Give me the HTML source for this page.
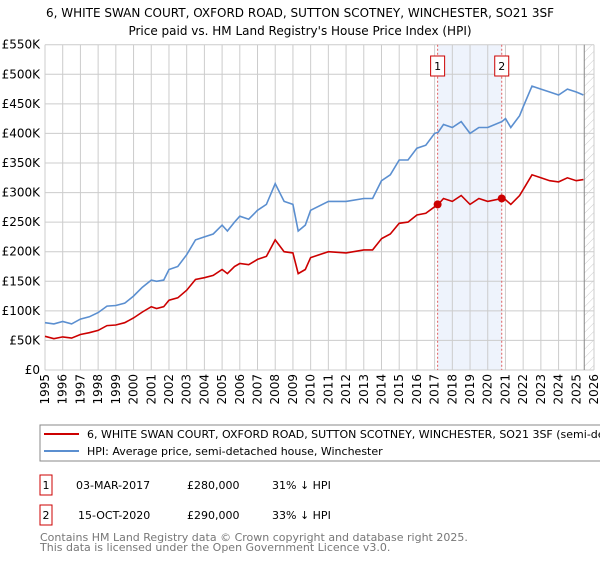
<!DOCTYPE html>
<html><head><meta charset="utf-8"><style>
body{margin:0;width:600px;height:560px;background:#fff;font-family:"DejaVu Sans","Liberation Sans",sans-serif;overflow:hidden}
svg text{font-family:"DejaVu Sans","Liberation Sans",sans-serif}
</style></head><body>
<svg width="600" height="560" id="svg">
<text x="300" y="17" text-anchor="middle" font-size="12">6, WHITE SWAN COURT, OXFORD ROAD, SUTTON SCOTNEY, WINCHESTER, SO21 3SF</text>
<text x="300" y="35" text-anchor="middle" font-size="12">Price paid vs. HM Land Registry's House Price Index (HPI)</text>
<defs><pattern id="hatch" width="6" height="6" patternUnits="userSpaceOnUse" patternTransform="rotate(45)"><line x1="0" y1="0" x2="0" y2="6" stroke="#ccc" stroke-width="1"/></pattern></defs>
<g id="grid"></g>
<g id="marks"></g>
<g id="lines"></g>
<rect x="40" y="425" width="570" height="36" fill="none" stroke="#888"/>
<line x1="44" y1="434" x2="79" y2="434" stroke="#cc0000" stroke-width="2"/>
<text x="87" y="438" font-size="11">6, WHITE SWAN COURT, OXFORD ROAD, SUTTON SCOTNEY, WINCHESTER, SO21 3SF (semi-detached house)</text>
<line x1="44" y1="451" x2="79" y2="451" stroke="#5b8fd0" stroke-width="2"/>
<text x="87" y="455" font-size="11">HPI: Average price, semi-detached house, Winchester</text>
<rect x="40" y="475" width="12" height="20" fill="none" stroke="#cc0000"/>
<text x="46" y="489" font-size="11" text-anchor="middle">1</text>
<text x="76" y="489" font-size="11">03-MAR-2017</text>
<text x="187" y="489" font-size="11">£280,000</text>
<text x="272" y="489" font-size="11">31% ↓ HPI</text>
<rect x="40" y="505" width="12" height="20" fill="none" stroke="#cc0000"/>
<text x="46" y="519" font-size="11" text-anchor="middle">2</text>
<text x="78" y="519" font-size="11">15-OCT-2020</text>
<text x="187" y="519" font-size="11">£290,000</text>
<text x="272" y="519" font-size="11">33% ↓ HPI</text>
<text x="40" y="541" font-size="11" fill="#777">Contains HM Land Registry data © Crown copyright and database right 2025.</text>
<text x="40" y="551" font-size="11" fill="#777">This data is licensed under the Open Government Licence v3.0.</text>
</svg>
<script>
const yTicks=[0,50,100,150,200,250,300,350,400,450,500,550];
const yTickLabels=["£0","£50K","£100K","£150K","£200K","£250K","£300K","£350K","£400K","£450K","£500K","£550K"];
const xYears=[1995,1996,1997,1998,1999,2000,2001,2002,2003,2004,2005,2006,2007,2008,2009,2010,2011,2012,2013,2014,2015,2016,2017,2018,2019,2020,2021,2022,2023,2024,2025,2026];
const seriesT=[1995,1995.5,1996,1996.5,1997,1997.5,1998,1998.5,1999,1999.5,2000,2000.5,2001,2001.3,2001.7,2002,2002.5,2003,2003.5,2004,2004.5,2005,2005.3,2005.7,2006,2006.5,2007,2007.5,2008,2008.5,2009,2009.3,2009.7,2010,2011,2012,2013,2013.5,2014,2014.5,2015,2015.5,2016,2016.5,2017,2017.2,2017.5,2018,2018.5,2019,2019.5,2020,2020.8,2021,2021.3,2021.8,2022,2022.5,2023,2023.5,2024,2024.5,2025,2025.4];
const hpiValues=[80,78,82,78,86,90,97,108,109,113,125,140,152,150,152,170,175,195,220,225,230,245,235,250,260,255,270,280,315,285,280,235,245,270,285,285,290,290,320,330,355,355,375,380,400,402,415,410,420,400,410,410,420,425,410,430,445,480,475,470,465,475,470,465];
const priceValues=[57,53,56,54,60,63,67,75,76,80,88,98,107,104,107,118,122,135,153,156,160,170,163,175,180,178,187,192,220,200,198,163,170,190,200,198,203,203,222,230,248,250,262,265,276,280,290,285,295,280,290,285,290,288,280,295,305,330,325,320,318,325,320,322];
const saleT=[2017.17,2020.79];
const saleV=[280,290];
const X0=45,X1=594,Y0=370,Y1=44.7;
const xs=t=>X0+(t-1995)/(2026-1995)*(X1-X0);
const ys=v=>Y0-v/550*(Y0-Y1);
const NS="http://www.w3.org/2000/svg";
function mk(tag,attrs,parent){const e=document.createElementNS(NS,tag);for(const k in attrs)e.setAttribute(k,attrs[k]);parent.appendChild(e);return e;}
const grid=document.getElementById('grid'),marks=document.getElementById('marks'),lines=document.getElementById('lines');
// shaded band
const band=mk('rect',{x:xs(saleT[0]),y:Y1,width:xs(saleT[1])-xs(saleT[0]),height:Y0-Y1,fill:'#eef3fc'},grid);


const hatch=mk('rect',{x:xs(2025.45),y:Y1,width:X1-xs(2025.45),height:Y0-Y1,fill:'url(#hatch)'},grid);


yTicks.forEach((v,i)=>{
 const l=mk('line',{x1:X0,x2:X1,y1:ys(v),y2:ys(v),stroke:'#ccc'},grid);
 
 
 const t=mk('text',{x:40,y:ys(v)+4,'text-anchor':'end','font-size':12},grid);
 t.textContent=yTickLabels[i];
 
 
});
xYears.forEach(y=>{
 const l=mk('line',{x1:xs(y),x2:xs(y),y1:Y1,y2:Y0,stroke:'#ccc'},grid);
 
 
 const t=mk('text',{x:0,y:0,'text-anchor':'end','font-size':12,transform:`translate(${xs(y)+4},374) rotate(-90)`},grid);
 t.textContent=y;
 
 
});
const vx=xs(2025.45);
const vl=mk('line',{x1:vx,x2:vx,y1:Y1,y2:Y0,stroke:'#888'},grid);


saleT.forEach((t,i)=>{
 const l=mk('line',{x1:xs(t),x2:xs(t),y1:Y1,y2:Y0,stroke:'#e06060','stroke-dasharray':'2,2'},marks);
 
 
 const r=mk('rect',{x:xs(t)-7,y:56,width:14,height:20,fill:'#fff',stroke:'#cc0000'},marks);
 
 
 const tx=mk('text',{x:xs(t),y:70,'text-anchor':'middle','font-size':11},marks);
 tx.textContent=String(i+1);
});
function path(vals,color,name){
 const d=seriesT.map((t,i)=>(i?'L':'M')+xs(t).toFixed(1)+','+ys(vals[i]).toFixed(1)).join('');
 const p=mk('path',{d:d,fill:'none',stroke:color,'stroke-width':1.6},lines);
 
 
}
path(hpiValues,'#5b8fd0','hpi-line');
path(priceValues,'#cc0000','property-price-line');
saleT.forEach((t,i)=>{
 const c=mk('circle',{cx:xs(t),cy:ys(saleV[i]),r:4,fill:'#cc0000'},lines);
 
 
});
</script>
</body></html>
